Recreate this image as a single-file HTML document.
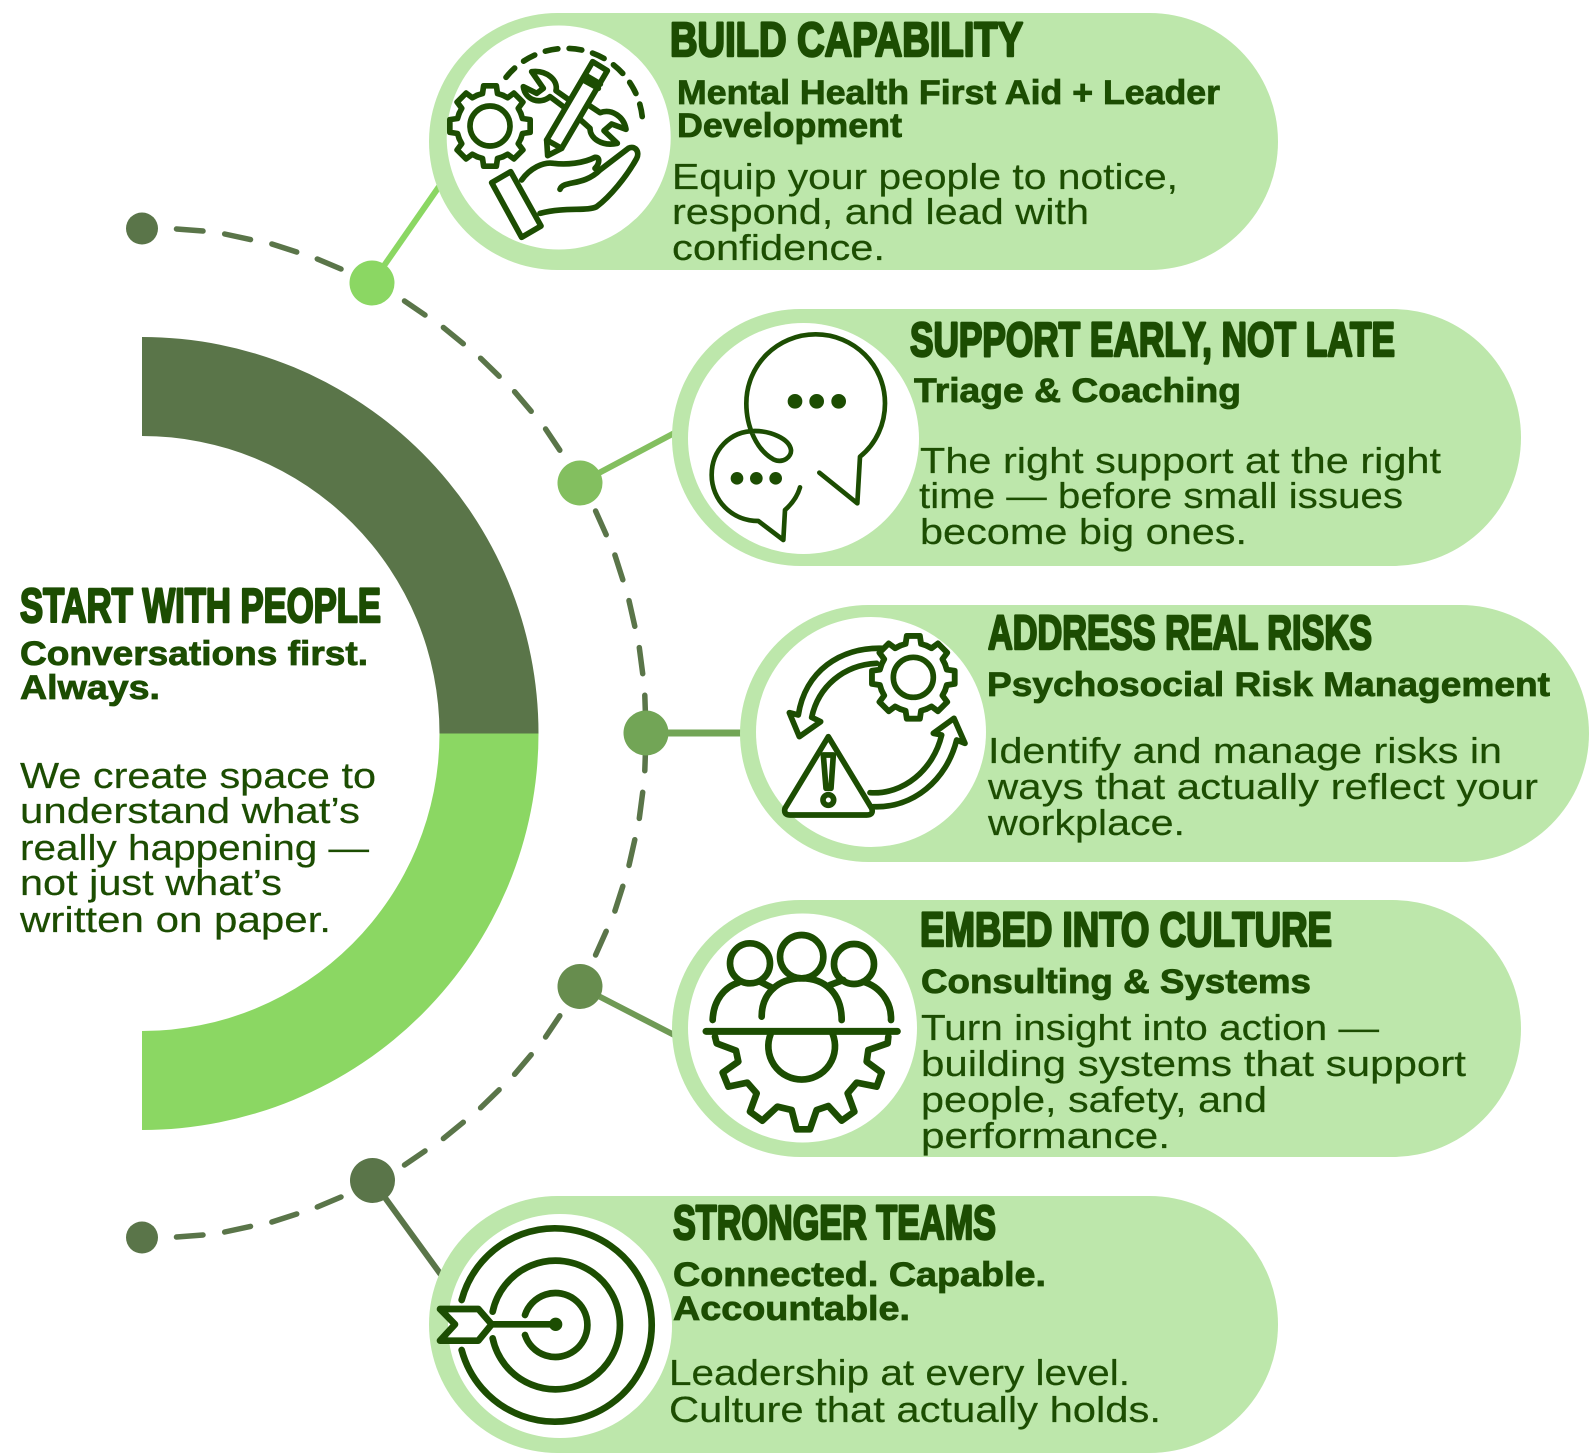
<!DOCTYPE html>
<html lang="en">
<head>
<meta charset="utf-8">
<title>Start With People</title>
<style>
html,body{margin:0;padding:0;background:#fff;width:1590px;height:1456px;overflow:hidden}
svg{display:block}
text{fill:#1c4d02;font-family:"Liberation Sans",sans-serif}
.t{font-weight:700;font-size:48px;stroke:#1c4d02;stroke-width:2.500;stroke-linejoin:round}
.s{font-weight:700;font-size:34px;stroke:#1c4d02;stroke-width:.8}
.b{font-size:36px;stroke:#1c4d02;stroke-width:.2}
.i{fill:none;stroke:#1c4d02;stroke-linecap:round;stroke-linejoin:round}
</style>
</head>
<body>
<svg xmlns="http://www.w3.org/2000/svg" width="1590" height="1456" viewBox="0 0 1590 1456">
<defs>
<path id="tooth" d="M-38.3,-92.4 L-22.5,-97.4 L-19.1,-120.5 L19.1,-120.5 L22.5,-97.4 L38.3,-92.4"/>
<g id="gear">
<use href="#tooth"/>
<use href="#tooth" transform="rotate(45)"/>
<use href="#tooth" transform="rotate(90)"/>
<use href="#tooth" transform="rotate(135)"/>
<use href="#tooth" transform="rotate(180)"/>
<use href="#tooth" transform="rotate(225)"/>
<use href="#tooth" transform="rotate(270)"/>
<use href="#tooth" transform="rotate(315)"/>
</g>
<path id="dashes" fill="none" stroke="#5a7549" stroke-width="5.500" stroke-linecap="round" d="M176.500,1237 L203,1235 M224.700,1232 L250.500,1226.400 M271.900,1222 L296.700,1214 M317.300,1207 L341,1197 M404.500,1165 L425,1151 M443.400,1138.500 L463.300,1122.300 M480.600,1107.800 L499.100,1089.800 M514.600,1074.300 L531.200,1054.700 M545.600,1037 L559.800,1015.800 M595.600,955 L606.200,931.300 M614.900,911 L622.800,886.300 M629,865.400 L634.800,839.700 M639.300,818.400 L642.700,792.300 M644.800,770.700 L645.500,750"/>
</defs>

<!-- donut half -->
<path d="M142,337 A396.500,396.500 0 0 1 538.500,733.500 L439.500,733.500 A297.500,297.500 0 0 0 142,436 Z" fill="#5a7549"/>
<path d="M142,1130 A396.500,396.500 0 0 0 538.500,733.500 L439.500,733.500 A297.500,297.500 0 0 1 142,1031 Z" fill="#8bd763"/>

<!-- dashed arc -->
<use href="#dashes"/>
<use href="#dashes" transform="matrix(1 0 0 -1 0 1466)"/>

<!-- connectors -->
<line x1="372" y1="283" x2="445" y2="178" stroke="#8bd763" stroke-width="6"/>
<line x1="580" y1="483" x2="680" y2="430" stroke="#83bf5f" stroke-width="6"/>
<line x1="646" y1="733" x2="750" y2="733" stroke="#72a556" stroke-width="7"/>
<line x1="580" y1="986.500" x2="680" y2="1038" stroke="#6f9a55" stroke-width="6"/>
<line x1="372.500" y1="1180.500" x2="447" y2="1283" stroke="#5a7549" stroke-width="6"/>

<!-- dots -->
<circle cx="142" cy="228.500" r="16" fill="#5a7549"/>
<circle cx="372" cy="283" r="22.500" fill="#8bd763"/>
<circle cx="580" cy="483" r="22.500" fill="#83bf5f"/>
<circle cx="646" cy="733" r="22.500" fill="#72a556"/>
<circle cx="580" cy="986.500" r="22.500" fill="#678d4e"/>
<circle cx="372.500" cy="1180.500" r="22.500" fill="#5a7549"/>
<circle cx="142" cy="1237.500" r="16" fill="#5a7549"/>

<!-- pills -->
<rect x="429" y="13" width="849" height="257" rx="128.500" fill="#bde7ab"/>
<rect x="672" y="309" width="849" height="257" rx="128.500" fill="#bde7ab"/>
<rect x="740" y="605" width="849" height="257" rx="128.500" fill="#bde7ab"/>
<rect x="672" y="900" width="849" height="257" rx="128.500" fill="#bde7ab"/>
<rect x="429" y="1196" width="849" height="257" rx="128.500" fill="#bde7ab"/>

<!-- white circles -->
<circle cx="558.700" cy="137.500" r="112" fill="#fff"/>
<circle cx="803.500" cy="438.500" r="115.500" fill="#fff"/>
<circle cx="871" cy="732" r="115" fill="#fff"/>
<circle cx="802.500" cy="1028" r="114.500" fill="#fff"/>
<circle cx="560" cy="1326" r="112" fill="#fff"/>

<!-- icon 1 -->
<g transform="translate(420,0) scale(.33333)" class="i" stroke-width="17">
<use href="#gear" transform="translate(210,378)"/>
<circle cx="210" cy="378" r="60"/>
<path d="M258,232 A230,230 0 0 1 668,370" stroke-dasharray="38 34"/>
<path d="M383,467 L380,420 L518,185 L562,212 L425,445 Z"/>
<path d="M497,226 L541,252 M490,240 L535,265 M380,420 L425,445"/>
<path d="M335,215 C380,210 415,240 408,272 L442,296 M430,320 L390,290 C360,315 315,300 310,260 L350,280 L370,265 L335,215"/>
<path d="M510,318 L540,338 C575,325 612,350 618,388 L575,372 L552,392 L592,430 C545,440 510,415 510,385 L480,358"/>
<path d="M215,548 L272,515 L363,678 L305,712 Z"/>
<path d="M305,540 C330,505 370,485 400,490 C440,495 490,490 525,472 C540,470 540,490 525,505"/>
<path d="M420,568 C430,540 490,560 540,510 L625,445 C645,435 660,455 650,475 C620,530 570,590 530,620 C500,635 440,620 360,640"/>
</g>

<!-- icon 2 -->
<g transform="translate(660,300) scale(.33333)" class="i" stroke-width="14">
<path d="M478,518 L592,610 L600,470 C650,430 675,370 675,310 C675,195 582,103 467,103 C352,103 259,195 259,310 C259,380 290,450 340,478 C370,492 395,470 393,450 C388,415 330,393 285,393 C210,393 155,450 155,525 C155,600 215,663 295,663 L370,720 L375,630 C395,612 412,590 420,562"/>
<g fill="#1c4d02" stroke="none">
<circle cx="405" cy="304" r="22"/><circle cx="470" cy="304" r="22"/><circle cx="536" cy="304" r="22"/>
<circle cx="231" cy="535" r="19"/><circle cx="289" cy="535" r="19"/><circle cx="347" cy="535" r="19"/>
</g>
</g>

<!-- icon 3 -->
<g transform="translate(730,600) scale(.33333)" class="i" stroke-width="17">
<use href="#gear" transform="translate(550,232) scale(1.03)"/>
<circle cx="550" cy="232" r="60"/>
<path d="M295,410 L165,625 Q160,645 180,645 L410,645 Q432,645 425,625 Z"/>
<path d="M280,465 L310,465 L303,565 L288,565 Z"/>
<circle cx="295" cy="600" r="16"/>
<path d="M460,145 C330,140 225,215 205,345 L178,338 L208,410 L272,365 L245,352 C265,260 340,195 440,190"/>
<path d="M420,578 C520,585 610,510 635,405 L610,400 L672,355 L705,430 L680,420 C650,540 550,625 430,620"/>
</g>

<!-- icon 4 -->
<g transform="translate(660,890) scale(.33333)" class="i" stroke-width="20">
<path d="M165,440 L170,460 L228,482 L235,515 L188,548 L205,590 L262,578 L290,610 L270,665 L307,692 L352,650 L395,660 L410,718 L450,718 L470,660 L505,648 L545,692 L583,665 L563,610 L590,578 L650,590 L665,548 L620,515 L625,480 L683,460 L685,440"/>
<path d="M332,432 A100,100 0 1 0 518,432"/>
<path d="M138,424 L712,424" stroke-width="21"/>
<circle cx="270" cy="220" r="60"/><circle cx="425" cy="200" r="65"/><circle cx="582" cy="222" r="60"/>
<path d="M305,380 C305,310 355,265 425,265 C495,265 545,310 545,390"/>
<path d="M158,390 C160,330 195,290 235,278 M300,275 L340,295 M510,285 L550,270 M610,275 C660,290 695,335 693,390"/>
</g>

<!-- icon 5 -->
<g transform="translate(420,1190) scale(.33333)" class="i" stroke-width="20">
<path d="M125,330 A290,290 0 1 1 125,480"/>
<path d="M218,365 A193,193 0 1 1 218,445"/>
<path d="M315,375 A96,96 0 1 1 315,435"/>
<path d="M215,403 L407,403"/>
<circle cx="407" cy="403" r="20" fill="#1c4d02" stroke="none"/>
<path d="M60,357 L175,357 L215,403 L175,452 L60,452 L105,403 Z"/>
</g>

<!-- left text -->
<text class="t" x="20" y="622" textLength="361" lengthAdjust="spacingAndGlyphs">START WITH PEOPLE</text>
<text class="s" x="20" y="665" textLength="348" lengthAdjust="spacingAndGlyphs">Conversations first.</text>
<text class="s" x="20" y="699" textLength="140" lengthAdjust="spacingAndGlyphs">Always.</text>
<text class="b" x="20" y="788" textLength="356" lengthAdjust="spacingAndGlyphs">We create space to</text>
<text class="b" x="20" y="823" textLength="340" lengthAdjust="spacingAndGlyphs">understand what’s</text>
<text class="b" x="20" y="860" textLength="349" lengthAdjust="spacingAndGlyphs">really happening —</text>
<text class="b" x="20" y="895" textLength="262" lengthAdjust="spacingAndGlyphs">not just what’s</text>
<text class="b" x="20" y="932" textLength="311" lengthAdjust="spacingAndGlyphs">written on paper.</text>

<!-- pill 1 text -->
<text class="t" x="670" y="56" textLength="353" lengthAdjust="spacingAndGlyphs">BUILD CAPABILITY</text>
<text class="s" x="677" y="104" textLength="543" lengthAdjust="spacingAndGlyphs">Mental Health First Aid + Leader</text>
<text class="s" x="677" y="137" textLength="225" lengthAdjust="spacingAndGlyphs">Development</text>
<text class="b" x="672" y="189" textLength="506" lengthAdjust="spacingAndGlyphs">Equip your people to notice,</text>
<text class="b" x="672" y="224" textLength="417" lengthAdjust="spacingAndGlyphs">respond, and lead with</text>
<text class="b" x="672" y="260" textLength="213" lengthAdjust="spacingAndGlyphs">confidence.</text>

<!-- pill 2 text -->
<text class="t" x="910" y="356" textLength="485" lengthAdjust="spacingAndGlyphs">SUPPORT EARLY, NOT LATE</text>
<text class="s" x="914" y="402" textLength="327" lengthAdjust="spacingAndGlyphs">Triage &amp; Coaching</text>
<text class="b" x="920" y="473" textLength="521" lengthAdjust="spacingAndGlyphs">The right support at the right</text>
<text class="b" x="919" y="508" textLength="484" lengthAdjust="spacingAndGlyphs">time — before small issues</text>
<text class="b" x="920" y="544" textLength="327" lengthAdjust="spacingAndGlyphs">become big ones.</text>

<!-- pill 3 text -->
<text class="t" x="988" y="649" textLength="384" lengthAdjust="spacingAndGlyphs">ADDRESS REAL RISKS</text>
<text class="s" x="987" y="696" textLength="563" lengthAdjust="spacingAndGlyphs">Psychosocial Risk Management</text>
<text class="b" x="988" y="763" textLength="514" lengthAdjust="spacingAndGlyphs">Identify and manage risks in</text>
<text class="b" x="988" y="799" textLength="550" lengthAdjust="spacingAndGlyphs">ways that actually reflect your</text>
<text class="b" x="988" y="835" textLength="197" lengthAdjust="spacingAndGlyphs">workplace.</text>

<!-- pill 4 text -->
<text class="t" x="920" y="946" textLength="412" lengthAdjust="spacingAndGlyphs">EMBED INTO CULTURE</text>
<text class="s" x="921" y="993" textLength="390" lengthAdjust="spacingAndGlyphs">Consulting &amp; Systems</text>
<text class="b" x="921" y="1040" textLength="458" lengthAdjust="spacingAndGlyphs">Turn insight into action —</text>
<text class="b" x="921" y="1076" textLength="545" lengthAdjust="spacingAndGlyphs">building systems that support</text>
<text class="b" x="921" y="1112" textLength="346" lengthAdjust="spacingAndGlyphs">people, safety, and</text>
<text class="b" x="921" y="1148" textLength="249" lengthAdjust="spacingAndGlyphs">performance.</text>

<!-- pill 5 text -->
<text class="t" x="673" y="1239" textLength="323" lengthAdjust="spacingAndGlyphs">STRONGER TEAMS</text>
<text class="s" x="673" y="1286" textLength="373" lengthAdjust="spacingAndGlyphs">Connected. Capable.</text>
<text class="s" x="673" y="1320" textLength="237" lengthAdjust="spacingAndGlyphs">Accountable.</text>
<text class="b" x="669" y="1385" textLength="461" lengthAdjust="spacingAndGlyphs">Leadership at every level.</text>
<text class="b" x="669" y="1422" textLength="492" lengthAdjust="spacingAndGlyphs">Culture that actually holds.</text>
</svg>
</body>
</html>
